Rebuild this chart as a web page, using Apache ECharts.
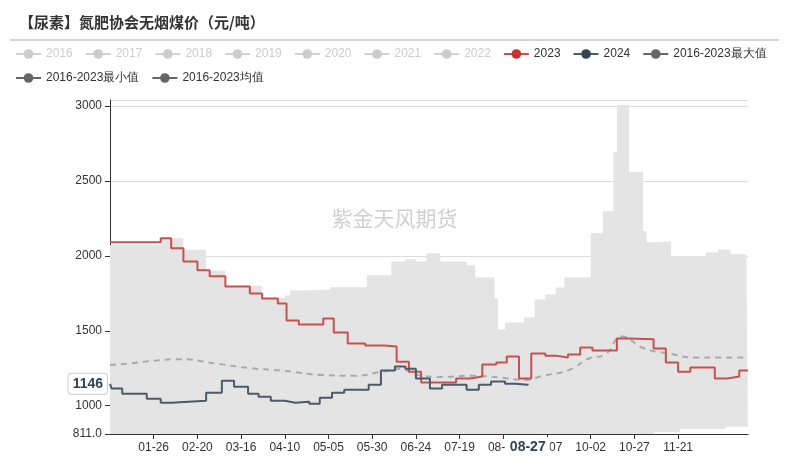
<!DOCTYPE html>
<html><head><meta charset="utf-8">
<script src="https://cdn.jsdelivr.net/npm/echarts@6/dist/echarts.min.js"></script>
<style>html,body{margin:0;padding:0;background:#fff}#c{width:789px;height:460px}</style>
</head><body><div id="c"></div>
<script>
// categories: every day MM-DD (leap-year calendar)
const categories = [];
for (let d = new Date(2024,0,1); d.getFullYear() === 2024; d.setDate(d.getDate()+1)) {
  categories.push(String(d.getMonth()+1).padStart(2,'0') + '-' + String(d.getDate()).padStart(2,'0'));
}
const legendYears = ['2016','2017','2018','2019','2020','2021','2022'];
// step change points [date, value]
const s2023 = [['01-01',2090],['01-30',2117],['02-05',2050],['02-12',1963],['02-20',1903],['02-27',1863],['03-07',1796],['03-21',1749],['03-28',1716],['04-06',1682],['04-11',1569],['04-18',1542],['05-02',1582],['05-08',1488],['05-16',1415],['05-26',1401],['06-06',1395],['06-13',1294],['06-20',1227],['06-27',1154],['07-17',1181],['07-25',1194],['08-01',1274],['08-09',1288],['08-15',1328],['08-22',1181],['08-29',1348],['09-06',1334],['09-12',1321],['09-19',1341],['09-26',1388],['10-03',1368],['10-17',1448],['10-24',1443],['11-07',1381],['11-14',1288],['11-21',1227],['11-28',1254],['12-12',1181],['12-19',1194],['12-26',1234],['12-31',1234]];
const s2024 = [['01-01',1146],['01-02',1114],['01-08',1080],['01-22',1047],['01-30',1020],['02-05',1033],['02-25',1087],['03-05',1167],['03-12',1127],['03-20',1080],['03-26',1060],['04-02',1033],['04-10',1020],['04-16',1027],['04-24',1013],['04-30',1053],['05-07',1087],['05-14',1107],['05-28',1140],['06-04',1234],['06-12',1261],['06-18',1247],['06-24',1181],['07-02',1114],['07-09',1140],['07-23',1107],['07-30',1140],['08-06',1161],['08-14',1147],['08-20',1140],['08-27',1146]];
const sMax = [['01-01',2070],['01-30',2117],['02-12',2040],['02-25',1900],['03-07',1800],['03-28',1720],['04-10',1736],['04-13',1769],['04-20',1776],['05-06',1790],['05-27',1870],['06-10',1963],['06-18',1977],['06-24',1963],['06-30',2017],['07-08',1963],['07-23',1937],['07-28',1856],['08-08',1716],['08-10',1508],['08-14',1555],['08-25',1589],['08-31',1709],['09-06',1742],['09-12',1789],['09-17',1856],['10-02',2150],['10-09',2298],['10-15',2692],['10-17',3007],['10-24',2559],['11-01',2164],['11-03',2090],['11-10',2097],['11-17',1997],['12-07',2023],['12-14',2043],['12-21',2010],['12-30',2070],['12-31',2070]];
const sMin = [['01-01',780],['11-07',822],['11-22',845],['12-18',860],['12-31',860]];
const sMean = [['01-01',1272],['01-15',1285],['01-26',1300],['02-10',1310],['03-01',1282],['03-20',1252],['04-10',1232],['05-01',1205],['05-20',1200],['06-05',1228],['06-15',1245],['06-25',1205],['07-10',1192],['07-25',1200],['08-10',1190],['08-25',1172],['09-05',1200],['09-20',1240],['10-01',1315],['10-10',1340],['10-20',1462],['11-01',1385],['11-15',1350],['12-01',1322],['12-31',1322]];

const chart = echarts.init(document.getElementById('c'));
const grey = {type:'line', data:[], symbol:'circle', itemStyle:{color:'#ccc'}, lineStyle:{color:'#ccc'}};
const gl = (name)=>({name, itemStyle:{color:'#666'}, lineStyle:{color:'#666', width:2, type:'solid', opacity:1}});
const showIdx = (i)=>i>0 && i<340 && i%25===0;
chart.setOption({
  animation:false,
  title:{text:'【尿素】氮肥协会无烟煤价（元/吨）', left:14, top:10, textStyle:{fontSize:15, fontWeight:'bold', color:'#333', fontFamily:'Noto Sans CJK SC'}},
  graphic:[
    {type:'line', shape:{x1:10,y1:40,x2:779,y2:40}, style:{stroke:'#aaa', lineWidth:1}},
    {type:'text', left:'center', top:208, style:{text:'紫金天风期货', fontSize:21, fill:'rgba(150,150,150,0.45)', fontFamily:'Noto Sans CJK SC'}}
  ],
  legend:{left:10, top:43, width:760, itemGap:12, itemWidth:25, itemHeight:12, textStyle:{fontSize:12, color:'#333'}, inactiveColor:'#ccc',
    data:[...legendYears,'2023','2024',gl('2016-2023最大值'),gl('2016-2023最小值'),gl('2016-2023均值')],
    selected:Object.fromEntries(legendYears.map(y=>[y,false]))},
  grid:{left:110, right:41, top:100, bottom:26},
  xAxis:{type:'category', data:categories, boundaryGap:false,
    axisLine:{lineStyle:{color:'#333'}},
    axisTick:{interval:showIdx, lineStyle:{color:'#333'}},
    axisLabel:{interval:showIdx, color:'#333', fontSize:12},
    axisPointer:{show:true, value:'08-27', status:'show', triggerTooltip:false, lineStyle:{opacity:0},
      label:{show:true, backgroundColor:'#fff', color:'#2f4554', fontWeight:'bold', fontSize:14, padding:[3,4]}}},
  yAxis:{type:'value', min:811, max:3040,
    axisLine:{show:true, lineStyle:{color:'#333'}}, axisTick:{show:true},
    splitLine:{lineStyle:{color:'#ddd'}},
    axisLabel:{showMaxLabel:false, color:'#333', fontSize:12, formatter:v=>v===811?'811.0':String(v)},
    axisPointer:{show:true, value:1146, status:'show', triggerTooltip:false, lineStyle:{opacity:0},
      label:{show:true, backgroundColor:'#fff', color:'#2f4554', fontWeight:'bold', fontSize:14, borderColor:'#ccc', borderWidth:1, padding:[3,4], formatter:p=>Math.round(p.value)}}},
  series:[
    ...legendYears.map(y=>Object.assign({}, grey, {name:y})),
    {name:'2016-2023最大值', type:'line', step:'end', data:sMax, symbol:'circle', showSymbol:false, z:1,
      itemStyle:{color:'#666'}, lineStyle:{width:0, color:'#666'}, areaStyle:{color:'#e4e4e4', opacity:1}},
    {name:'2016-2023最小值', type:'line', step:'end', data:sMin, symbol:'circle', showSymbol:false, z:2,
      itemStyle:{color:'#666'}, lineStyle:{width:0, color:'#666'}, areaStyle:{color:'#fff', opacity:1}},
    {name:'2016-2023均值', type:'line', data:sMean, smooth:true, symbol:'circle', showSymbol:false, z:3,
      itemStyle:{color:'#666'}, lineStyle:{width:2, type:[6,5], color:'#aaa'}},
    {name:'2023', type:'line', step:'end', data:s2023, symbol:'circle', showSymbol:false, z:4,
      itemStyle:{color:'#c23531'}, lineStyle:{width:2, color:'#c9504c'}},
    {name:'2024', type:'line', step:'end', data:s2024, symbol:'circle', showSymbol:false, z:5,
      itemStyle:{color:'#2f4554'}, lineStyle:{width:2, color:'#4a5a68'}}
  ]
});
</script></body></html>
